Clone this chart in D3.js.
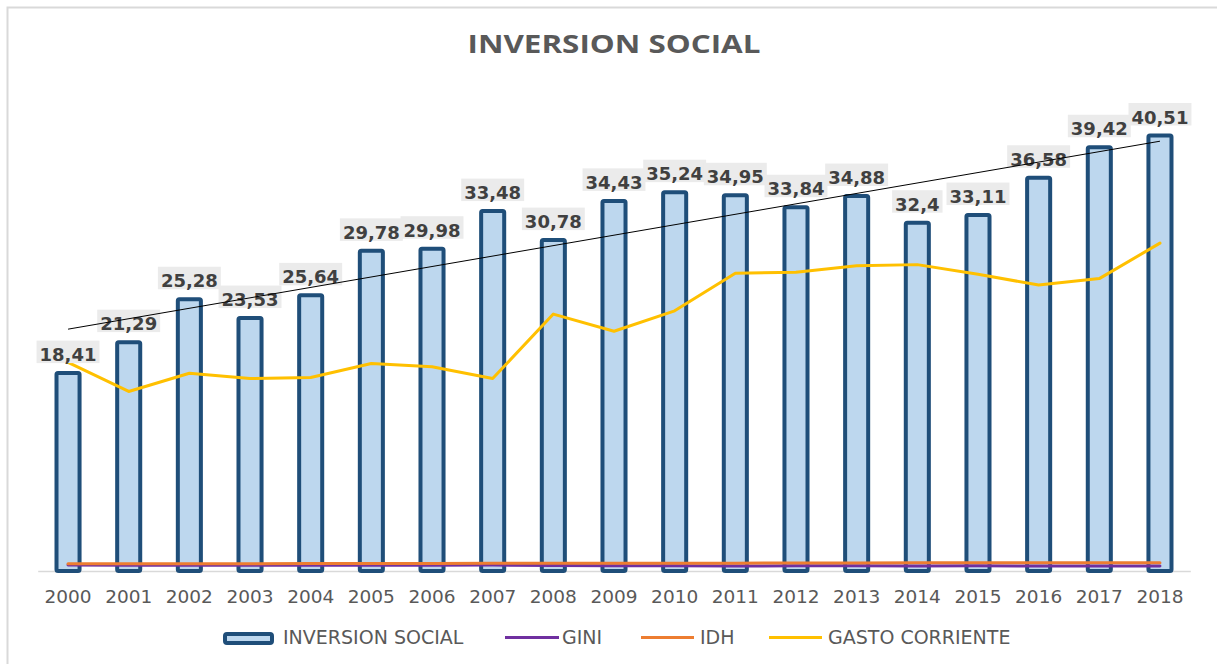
<!DOCTYPE html>
<html>
<head>
<meta charset="utf-8">
<script src="https://cdn.jsdelivr.net/npm/d3@7"></script>
<style>
  html, body { margin: 0; padding: 0; background: #ffffff; }
  svg { display: block; }
</style>
</head>
<body>
<svg id="chart" width="1217" height="664"></svg>
<script>
// ---------- data ----------
const years = ["2000","2001","2002","2003","2004","2005","2006","2007","2008","2009","2010","2011","2012","2013","2014","2015","2016","2017","2018"];
const inversionSocial = [18.41,21.29,25.28,23.53,25.64,29.78,29.98,33.48,30.78,34.43,35.24,34.95,33.84,34.88,32.4,33.11,36.58,39.42,40.51];
const gastoCorriente = [19.4,16.7,18.4,17.9,18.0,19.3,19.0,17.9,23.9,22.3,24.2,27.7,27.8,28.4,28.5,27.6,26.6,27.2,30.5];
const gini = [0.56,0.54,0.54,0.53,0.54,0.53,0.54,0.55,0.51,0.50,0.50,0.46,0.48,0.48,0.47,0.48,0.47,0.46,0.47];
const idh = [0.67,0.67,0.68,0.68,0.69,0.69,0.70,0.71,0.71,0.72,0.72,0.73,0.74,0.75,0.76,0.76,0.76,0.76,0.76];
const legendLabels = ["INVERSION SOCIAL","GINI","IDH","GASTO CORRIENTE"];
const titleText = "INVERSION SOCIAL";

// ---------- layout ----------
const svg = d3.select("#chart");
const colors = { barFill:"#bdd7ee", barStroke:"#1f4e79", gini:"#7030a0", idh:"#ed7d31", gasto:"#ffc000", text:"#595959", label:"#404040", box:"#ebebeb", grid:"#d9d9d9" };

// chart border (cropped on right/bottom)
svg.append("path")
  .attr("d", "M7.5,664 L7.5,7.5 L1217,7.5")
  .attr("fill", "none").attr("stroke", colors.grid).attr("stroke-width", 2);

// title
svg.append("text")
  .attr("x", 614).attr("y", 52.5)
  .attr("text-anchor", "middle")
  .attr("font-family", "'Open Sans', sans-serif")
  .attr("font-weight", "bold")
  .attr("font-size", 25)
  .attr("fill", colors.text)
  .attr("textLength", 293)
  .attr("lengthAdjust", "spacingAndGlyphs")
  .text(titleText);

const x = d3.scaleBand().domain(years).range([37.7, 1190.3]).paddingInner(0.62).paddingOuter(0.31);
const y = d3.scaleLinear().domain([0, 45]).range([571, 87.25]);
const cx = d => x(d) + x.bandwidth() / 2;

// axis
const axis = svg.append("g").attr("transform", "translate(0,571)")
  .call(d3.axisBottom(x).tickSize(0).tickSizeOuter(0));
axis.select(".domain").attr("stroke", colors.grid).attr("stroke-width", 1.5);
axis.selectAll(".tick text")
  .attr("y", 32).attr("dy", 0)
  .attr("font-family", "'DejaVu Sans', sans-serif")
  .attr("font-size", 18.5)
  .attr("fill", colors.text);

// bars
svg.append("g").selectAll("rect")
  .data(years)
  .join("rect")
  .attr("x", d => x(d))
  .attr("y", (d, i) => y(inversionSocial[i]))
  .attr("width", x.bandwidth())
  .attr("height", (d, i) => y(0) - y(inversionSocial[i]))
  .attr("rx", 1.5)
  .attr("fill", colors.barFill)
  .attr("stroke", colors.barStroke)
  .attr("stroke-width", 4);

// lines
const lineGen = arr => d3.line().x((d, i) => cx(years[i])).y(d => y(d))(arr);
svg.append("path").attr("d", lineGen(gini)).attr("fill", "none").attr("stroke", colors.gini).attr("stroke-width", 3).attr("stroke-linejoin", "round").attr("stroke-linecap", "round");
svg.append("path").attr("d", lineGen(idh)).attr("fill", "none").attr("stroke", colors.idh).attr("stroke-width", 3).attr("stroke-linejoin", "round").attr("stroke-linecap", "round");
svg.append("path").attr("d", lineGen(gastoCorriente)).attr("fill", "none").attr("stroke", colors.gasto).attr("stroke-width", 3).attr("stroke-linejoin", "round").attr("stroke-linecap", "round");

// data labels
const fmt = v => String(v).replace(".", ",");
const labels = svg.append("g");
years.forEach((yr, i) => {
  const v = inversionSocial[i];
  const base = y(v) - 12;
  const g = labels.append("g");
  const t = g.append("text")
    .attr("x", cx(yr)).attr("y", base)
    .attr("text-anchor", "middle")
    .attr("font-family", "'DejaVu Sans', sans-serif")
    .attr("font-weight", "bold")
    .attr("font-size", 18)
    .attr("fill", colors.label)
    .text(fmt(v));
  const w = t.node().getComputedTextLength();
  g.insert("rect", "text")
    .attr("x", cx(yr) - w / 2 - 3)
    .attr("y", base - 20.5)
    .attr("width", w + 6)
    .attr("height", 22.5)
    .attr("fill", colors.box);
});

// linear trend line (least squares over Inversion Social)
const n = inversionSocial.length;
const idx = d3.range(n);
const mx = d3.mean(idx), my = d3.mean(inversionSocial);
const slope = d3.sum(idx, i => (i - mx) * (inversionSocial[i] - my)) / d3.sum(idx, i => (i - mx) ** 2);
const intercept = my - slope * mx;
svg.append("line")
  .attr("x1", cx(years[0])).attr("y1", y(intercept))
  .attr("x2", cx(years[n - 1])).attr("y2", y(intercept + slope * (n - 1)))
  .attr("stroke", "#000000").attr("stroke-width", 1);

// legend
const leg = svg.append("g").attr("font-family", "'DejaVu Sans', sans-serif").attr("font-size", 19).attr("fill", colors.text);
leg.append("rect").attr("x", 225).attr("y", 634).attr("width", 47).attr("height", 9).attr("rx", 2)
  .attr("fill", colors.barFill).attr("stroke", colors.barStroke).attr("stroke-width", 4);
leg.append("text").attr("x", 283).attr("y", 644).text(legendLabels[0]);
const legLines = [
  { x1: 505, x2: 559, tx: 562, c: colors.gini, label: legendLabels[1] },
  { x1: 641, x2: 694, tx: 700, c: colors.idh, label: legendLabels[2] },
  { x1: 769, x2: 822, tx: 828, c: colors.gasto, label: legendLabels[3] }
];
legLines.forEach(l => {
  leg.append("line").attr("x1", l.x1).attr("x2", l.x2).attr("y1", 637.5).attr("y2", 637.5)
    .attr("stroke", l.c).attr("stroke-width", 3);
  leg.append("text").attr("x", l.tx).attr("y", 644).text(l.label);
});
</script>
</body>
</html>
